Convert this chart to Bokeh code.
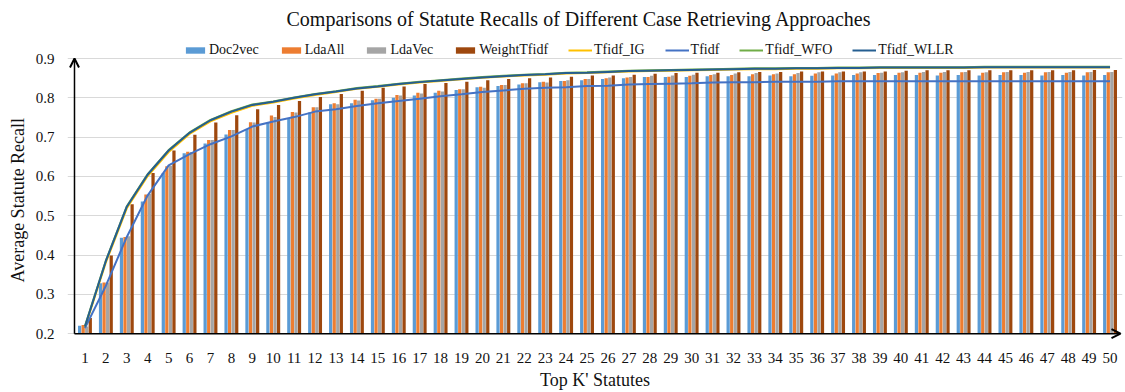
from bokeh.plotting import figure
from bokeh.models import ColumnDataSource, Legend, LegendItem, Arrow, OpenHead, FixedTicker, Title
from bokeh.transform import dodge
from bokeh.embed import file_html
from bokeh.resources import INLINE

k = list(range(1, 51))

doc2vec = [0.220, 0.328, 0.444, 0.536, 0.609, 0.659, 0.684, 0.707, 0.721, 0.736,
           0.746, 0.763, 0.784, 0.786, 0.794, 0.800, 0.806, 0.813, 0.820, 0.827,
           0.830, 0.834, 0.840, 0.843, 0.845, 0.848, 0.850, 0.853, 0.853, 0.853,
           0.855, 0.855, 0.855, 0.857, 0.855, 0.856, 0.857, 0.858, 0.858, 0.858,
           0.858, 0.857, 0.858, 0.857, 0.858, 0.858, 0.857, 0.858, 0.857, 0.858]
ldaall = [0.222, 0.330, 0.446, 0.554, 0.626, 0.663, 0.693, 0.718, 0.738, 0.755,
          0.764, 0.776, 0.786, 0.795, 0.798, 0.807, 0.813, 0.818, 0.822, 0.828,
          0.833, 0.837, 0.841, 0.843, 0.848, 0.850, 0.852, 0.853, 0.854, 0.856,
          0.858, 0.858, 0.860, 0.860, 0.860, 0.862, 0.862, 0.862, 0.863, 0.864,
          0.864, 0.864, 0.865, 0.864, 0.865, 0.864, 0.865, 0.864, 0.865, 0.865]
ldavec = [0.218, 0.330, 0.448, 0.556, 0.627, 0.662, 0.693, 0.718, 0.737, 0.751,
          0.763, 0.776, 0.784, 0.793, 0.798, 0.806, 0.811, 0.816, 0.822, 0.826,
          0.833, 0.837, 0.839, 0.845, 0.848, 0.852, 0.853, 0.856, 0.857, 0.859,
          0.860, 0.862, 0.863, 0.862, 0.863, 0.865, 0.865, 0.865, 0.864, 0.865,
          0.866, 0.866, 0.866, 0.865, 0.866, 0.866, 0.866, 0.866, 0.866, 0.866]
weight = [0.240, 0.399, 0.529, 0.609, 0.666, 0.706, 0.737, 0.756, 0.771, 0.782,
          0.792, 0.802, 0.810, 0.818, 0.826, 0.829, 0.835, 0.838, 0.841, 0.845,
          0.848, 0.850, 0.852, 0.854, 0.857, 0.857, 0.859, 0.861, 0.863, 0.864,
          0.864, 0.865, 0.866, 0.866, 0.867, 0.867, 0.867, 0.867, 0.867, 0.869,
          0.870, 0.870, 0.870, 0.870, 0.870, 0.870, 0.870, 0.870, 0.871, 0.871]
tfidf = [0.214, 0.322, 0.446, 0.552, 0.628, 0.657, 0.682, 0.702, 0.727, 0.740,
         0.751, 0.765, 0.771, 0.779, 0.786, 0.792, 0.798, 0.804, 0.809, 0.815,
         0.819, 0.823, 0.826, 0.827, 0.830, 0.831, 0.834, 0.835, 0.836, 0.837,
         0.839, 0.840, 0.840, 0.841, 0.841, 0.841, 0.842, 0.842, 0.842, 0.842,
         0.842, 0.842, 0.842, 0.842, 0.842, 0.842, 0.842, 0.842, 0.842, 0.842]
tfidf_wllr = [0.218, 0.385, 0.523, 0.605, 0.666, 0.711, 0.743, 0.765, 0.782, 0.790,
              0.800, 0.809, 0.816, 0.824, 0.829, 0.835, 0.840, 0.844, 0.848, 0.852,
              0.855, 0.858, 0.860, 0.863, 0.864, 0.866, 0.868, 0.869, 0.870, 0.871,
              0.872, 0.873, 0.874, 0.874, 0.875, 0.875, 0.876, 0.876, 0.877, 0.877,
              0.877, 0.877, 0.877, 0.878, 0.878, 0.878, 0.878, 0.878, 0.878, 0.878]
tfidf_ig = [0.216, 0.381, 0.519, 0.601, 0.662, 0.708, 0.740, 0.762, 0.780, 0.788,
            0.798, 0.807, 0.815, 0.823, 0.828, 0.834, 0.839, 0.843, 0.847, 0.851,
            0.854, 0.857, 0.859, 0.862, 0.863, 0.865, 0.867, 0.868, 0.869, 0.870,
            0.871, 0.872, 0.873, 0.873, 0.874, 0.874, 0.875, 0.875, 0.876, 0.876,
            0.876, 0.876, 0.876, 0.877, 0.877, 0.877, 0.877, 0.877, 0.877, 0.877]
tfidf_wfo = [0.219, 0.386, 0.524, 0.606, 0.667, 0.712, 0.744, 0.766, 0.783, 0.791,
             0.801, 0.810, 0.817, 0.825, 0.830, 0.836, 0.841, 0.845, 0.849, 0.853,
             0.856, 0.859, 0.861, 0.864, 0.865, 0.867, 0.869, 0.870, 0.871, 0.872,
             0.873, 0.874, 0.875, 0.875, 0.876, 0.876, 0.877, 0.877, 0.878, 0.878,
             0.878, 0.878, 0.878, 0.879, 0.879, 0.879, 0.879, 0.879, 0.879, 0.879]

y_ticks = [0.2, 0.3, 0.4, 0.5, 0.6, 0.7, 0.8, 0.9]

SERIF = "Liberation Serif"
TXT = "#111111"

# pixel geometry: one category = 20.94 px, 0.1 of recall = 40.2 px
CAT_PX = 20.94
UNIT_PX = 402.0
F_LEFT, F_RIGHT, F_TOP, F_BOTTOM = 66, 1122, 30, 342
AX_X, AX_Y = 73, 336  # where x=0.5 and y=0.2 land

x_start = 0.5 - (AX_X - F_LEFT) / CAT_PX
x_end = 0.5 + (F_RIGHT - AX_X) / CAT_PX
y_start = 0.2 - (F_BOTTOM - AX_Y) / UNIT_PX
y_end = 0.2 + (AX_Y - F_TOP) / UNIT_PX

src = ColumnDataSource(dict(k=k, doc2vec=doc2vec, ldaall=ldaall, ldavec=ldavec,
                            weight=weight, tfidf=tfidf, ig=tfidf_ig, wfo=tfidf_wfo,
                            wllr=tfidf_wllr))

p = figure(width=1125, height=392, output_backend="svg", toolbar_location=None,
           x_range=(x_start, x_end), y_range=(y_start, y_end),
           min_border_left=F_LEFT, min_border_right=1125 - F_RIGHT,
           min_border_top=F_TOP, min_border_bottom=392 - F_BOTTOM)
p.outline_line_color = None
p.background_fill_color = "white"

p.title = Title(text="Comparisons of Statute Recalls of Different Case Retrieving Approaches",
                align="left", offset=285 - F_LEFT, text_font=SERIF, text_font_size="20px",
                text_font_style="normal", text_color=TXT)

bw = 0.155
r1 = p.vbar(x=dodge("k", -0.255, range=p.x_range), top="doc2vec", bottom=0.2, width=bw,
            source=src, fill_color="#5B9BD5", line_color=None)
r2 = p.vbar(x=dodge("k", -0.085, range=p.x_range), top="ldaall", bottom=0.2, width=bw,
            source=src, fill_color="#ED7D31", line_color=None)
r3 = p.vbar(x=dodge("k", 0.085, range=p.x_range), top="ldavec", bottom=0.2, width=bw,
            source=src, fill_color="#A5A5A5", line_color=None)
r4 = p.vbar(x=dodge("k", 0.255, range=p.x_range), top="weight", bottom=0.2, width=bw,
            source=src, fill_color="#9E480E", line_color=None)

r5 = p.line("k", "ig", source=src, line_color="#FFC000", line_width=2)
r6 = p.line("k", "tfidf", source=src, line_color="#4472C4", line_width=2)
r7 = p.line("k", "wfo", source=src, line_color="#70AD47", line_width=2)
r8 = p.line("k", "wllr", source=src, line_color="#255E91", line_width=2)

legend = Legend(items=[
    LegendItem(label="Doc2vec", renderers=[r1]),
    LegendItem(label="LdaAll", renderers=[r2]),
    LegendItem(label="LdaVec", renderers=[r3]),
    LegendItem(label="WeightTfidf", renderers=[r4]),
    LegendItem(label="Tfidf_IG", renderers=[r5]),
    LegendItem(label="Tfidf", renderers=[r6]),
    LegendItem(label="Tfidf_WFO", renderers=[r7]),
    LegendItem(label="Tfidf_WLLR", renderers=[r8]),
], orientation="horizontal", location=(182 - F_LEFT, F_BOTTOM - 61))
legend.label_text_font = SERIF
legend.label_text_font_size = "14px"
legend.label_text_color = TXT
legend.glyph_width = 24
legend.glyph_height = 8
legend.label_standoff = 2
legend.spacing = 20
legend.padding = 0
legend.margin = 0
legend.border_line_color = None
legend.background_fill_alpha = 0
legend.label_height = 8
p.add_layout(legend)

p.xaxis.ticker = FixedTicker(ticks=k)
p.yaxis.ticker = FixedTicker(ticks=y_ticks)
p.xaxis.major_label_overrides = {i: str(i) for i in k}
p.yaxis.major_label_overrides = {t: f"{t:.1f}" for t in y_ticks}
for ax in (p.xaxis, p.yaxis):
    ax.axis_line_color = None
    ax.major_tick_line_color = None
    ax.minor_tick_line_color = None
    ax.major_label_text_font = SERIF
    ax.major_label_text_font_size = "15px"
    ax.major_label_text_color = TXT
    ax.axis_label_text_font = SERIF
    ax.axis_label_text_font_size = "18px"
    ax.axis_label_text_font_style = "normal"
    ax.axis_label_text_color = TXT
p.xaxis.axis_label = "Top K' Statutes"
p.xaxis.major_label_standoff = 7
p.yaxis.major_label_standoff = 7
p.xaxis.axis_label_standoff = 4

# y-axis title centred on the 0.2-0.9 span, as in the reference
p.add_layout(Title(text="Average Statute Recall", align="left", offset=F_BOTTOM - 285,
                   text_font=SERIF, text_font_size="18px", text_font_style="normal",
                   text_color=TXT), "left")

p.xgrid.grid_line_color = None
p.ygrid.grid_line_color = "#D9D9D9"
p.ygrid.grid_line_width = 1

p.add_layout(Arrow(end=OpenHead(size=9, line_width=2, line_color="black"),
                   x_start=0.5, y_start=0.2, x_end=0.5, y_end=0.9,
                   line_color="black", line_width=1.5))
p.add_layout(Arrow(end=OpenHead(size=9, line_width=2, line_color="black"),
                   x_start=0.5, y_start=0.2, x_end=50.5, y_end=0.2,
                   line_color="black", line_width=1.5))

open("out.html", "w").write(file_html(p, INLINE))
